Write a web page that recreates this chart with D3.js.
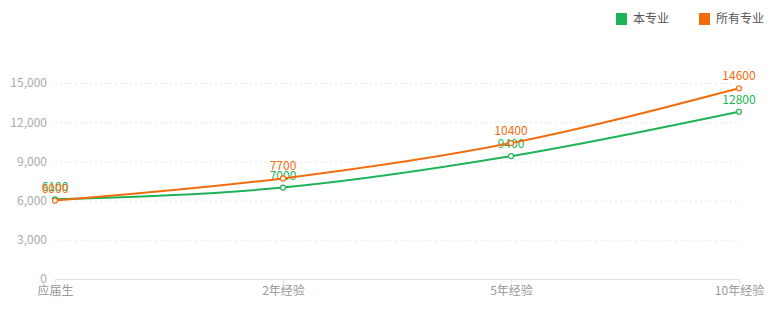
<!DOCTYPE html>
<html><head><meta charset="utf-8">
<script src="https://cdn.jsdelivr.net/npm/d3@7/dist/d3.min.js"></script>
<style>body{margin:0;background:#fff;font-family:"Microsoft YaHei","Noto Sans CJK SC",sans-serif;}</style>
</head><body>
<svg id="c" width="780" height="330"></svg>
<script>
const categories = ["应届生", "2年经验", "5年经验", "10年经验"];
const seriesNames = ["本专业", "所有专业"];
const majorValues = [6100, 7000, 9400, 12800];
const allValues = [6000, 7700, 10400, 14600];
const yTicks = [0, 3000, 6000, 9000, 12000, 15000];
const colors = ["#1db356", "#f26c0d"];

(function () {
const svg = d3.select("#c");
const mLeft = 55, mRight = 739, mTop = 83, mBottom = 279;
const x = d3.scalePoint().domain(categories).range([mLeft, mRight]);
const y = d3.scaleLinear().domain([0, 15000]).range([mBottom, mTop]);
const font = '"Microsoft YaHei","Noto Sans CJK SC",sans-serif';

// grid
svg.append("g").selectAll("line").data(yTicks.filter(d => d > 0)).join("line")
  .attr("x1", mLeft).attr("x2", mRight)
  .attr("y1", d => y(d) + 0.5).attr("y2", d => y(d) + 0.5)
  .attr("stroke", "#e6e6e6").attr("stroke-dasharray", "2,3");

// y axis labels
const yAxis = d3.axisLeft(y).tickValues(yTicks).tickFormat(d3.format(",")).tickSize(0).tickPadding(8);
const ga = svg.append("g").attr("transform", `translate(${mLeft},0)`).call(yAxis);
ga.select(".domain").remove();
ga.selectAll("text").attr("fill", "#aaa").style("font-size", "12px").style("font-family", font);

// x axis
const xAxis = d3.axisBottom(x).tickSize(4).tickPadding(3);
const gx = svg.append("g").attr("transform", `translate(0,${mBottom + 0.5})`).call(xAxis);
gx.select(".domain").attr("stroke", "#e0e0e0").attr("d", `M${mLeft},0H${mRight}`);
gx.selectAll(".tick line").attr("stroke", "#e0e0e0");
gx.selectAll("text").attr("fill", "#999").style("font-size", "12px").style("font-family", font);

// lines
const data = [majorValues, allValues];
const line = d3.line().x((d, i) => x(categories[i])).y(d => y(d)).curve(d3.curveMonotoneX);
data.forEach((vals, si) => {
  const g = svg.append("g");
  g.append("path").datum(vals).attr("d", line).attr("fill", "none")
    .attr("stroke", colors[si]).attr("stroke-width", 2);
  g.selectAll("circle").data(vals).join("circle")
    .attr("cx", (d, i) => x(categories[i])).attr("cy", d => y(d)).attr("r", 2.5)
    .attr("fill", "#fff").attr("stroke", colors[si]).attr("stroke-width", 1.2);
  g.selectAll("text").data(vals).join("text")
    .attr("x", (d, i) => x(categories[i])).attr("y", d => y(d) - 8)
    .attr("text-anchor", "middle").attr("fill", colors[si])
    .style("font-size", "12px").style("font-family", font).text(d => d);
});

// legend
const lx = [616, 699];
seriesNames.forEach((n, i) => {
  svg.append("rect").attr("x", lx[i]).attr("y", 13).attr("width", 11).attr("height", 12).attr("fill", colors[i]);
  svg.append("text").attr("x", lx[i] + 17).attr("y", 23).attr("fill", "#555")
    .style("font-size", "12px").style("font-family", font).text(n);
});
})();
</script>
</body></html>
